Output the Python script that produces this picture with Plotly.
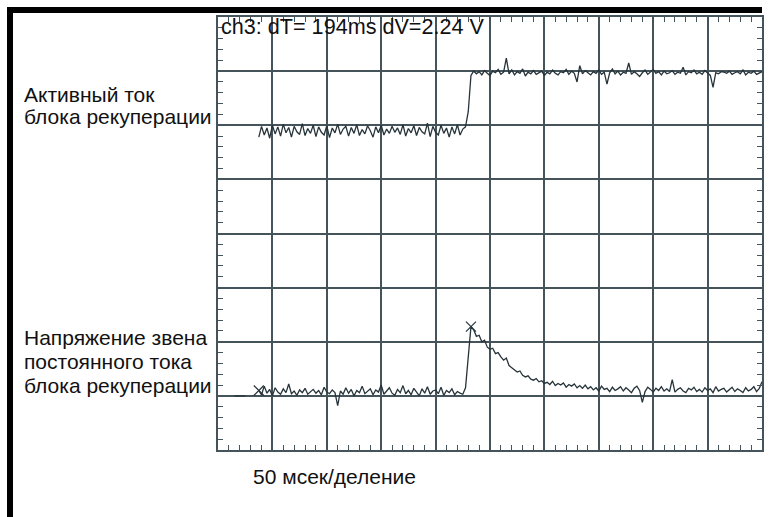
import plotly.graph_objects as go

# ---- data (time in ms, amplitude in screen divisions) ----
SAMPLE_START_MS = 37.5
SAMPLE_STEP_MS = 2.5

current_div = [
    5.78, 5.98, 5.82, 5.95, 5.76, 6.00, 5.84, 5.97, 5.80, 6.02,
    5.86, 5.96, 5.78, 5.98, 5.88, 5.83, 6.03, 5.81, 5.94, 5.85,
    6.00, 5.79, 5.97, 5.87, 5.82, 5.99, 5.77, 5.95, 5.86, 6.02,
    5.83, 5.93, 5.98, 5.80, 5.96, 5.85, 6.01, 5.81, 5.92, 5.84,
    5.99, 5.90, 5.78, 5.97, 5.86, 6.00, 5.82, 5.93, 5.85, 5.98,
    5.87, 5.95, 5.83, 6.01, 5.80, 5.94, 5.86, 5.99, 5.81, 5.96,
    5.88, 5.84, 6.04, 5.79, 5.98, 5.87, 5.82, 6.00, 5.85, 5.95,
    5.78, 5.97, 5.84, 6.01, 5.82, 5.93, 5.97,
    6.25, 6.92, 7.00,
    6.95, 6.99, 6.93, 7.01, 6.96, 6.92, 7.00, 6.97, 7.03, 6.94,
    6.98, 7.24, 6.95, 7.02, 6.93, 6.99, 6.96, 7.04, 6.91, 6.98,
    6.95, 7.01, 6.94, 6.97, 7.00, 6.92, 6.98, 6.95, 7.02, 6.96,
    6.93, 6.99, 6.97, 7.03, 6.94, 7.00, 6.96, 6.80, 7.10, 6.95,
    7.01, 6.97, 6.93, 6.99, 6.96, 7.02, 6.94, 6.98, 6.76, 6.97,
    7.04, 6.95, 7.00, 6.93, 6.98, 6.96, 7.15, 6.94, 6.99, 6.95,
    6.90, 6.97, 7.02, 6.94, 6.98, 7.03, 6.96, 6.99, 6.93, 7.00,
    6.95, 6.97, 7.01, 6.94, 6.98, 6.96, 7.07, 6.93, 6.99, 6.97,
    7.02, 6.95, 6.98, 6.94, 7.01, 6.96, 6.92, 6.70, 6.97, 6.95,
    6.99, 6.98, 6.96, 7.00, 6.94, 6.97, 6.99, 6.95, 7.02, 6.93,
    6.98, 6.96, 7.00, 6.94, 6.97, 6.99,
]

voltage_div = [
    1.10, 1.02, 1.18, 1.05, 1.12, 1.00, 1.15, 1.07, 1.03, 1.13,
    1.06, 1.22, 1.04, 1.09, 1.01, 1.11, 1.06, 1.14, 1.03, 1.08,
    1.12, 1.05, 1.10, 1.02, 1.16, 1.07, 1.04, 1.11, 1.06, 0.82,
    1.09, 1.03, 1.15, 1.05, 1.12, 1.00, 1.10, 1.06, 1.18, 1.04,
    1.08, 1.13, 1.02, 1.11, 1.07, 1.20, 1.03, 1.09, 1.15, 1.05,
    1.01, 1.12, 1.06, 1.19, 1.04, 1.10, 1.02, 1.14, 1.08, 1.00,
    1.13, 1.05, 1.17, 1.03, 1.09, 1.11, 1.04, 1.16, 1.01, 1.10,
    1.06, 1.13, 1.02, 1.08, 1.05, 1.03,
    1.15, 1.70, 2.28, 2.22, 2.10, 2.12, 2.00, 2.03, 1.90, 1.86,
    1.88, 1.78, 1.80, 1.72, 1.66, 1.70, 1.56, 1.52, 1.48, 1.44,
    1.46, 1.38, 1.35, 1.37, 1.31, 1.29, 1.32, 1.26, 1.28, 1.23,
    1.25, 1.21, 1.27, 1.19, 1.23, 1.20, 1.24, 1.16, 1.21, 1.18,
    1.22, 1.15, 1.19, 1.14, 1.20, 1.13,
    1.17, 1.11, 1.15, 1.09, 1.18, 1.12, 1.14, 1.08, 1.16, 1.10,
    1.13, 1.17, 1.09, 1.15, 1.11, 1.06, 1.14, 1.18, 1.10, 0.88,
    1.08, 1.16, 1.12, 1.07, 1.14, 1.10, 1.17, 1.09, 1.13, 1.08,
    1.30, 1.07, 1.12, 1.15, 1.09, 1.06, 1.14, 1.11, 1.16, 1.08,
    1.12, 1.07, 1.15, 1.10, 1.13, 1.06, 1.17, 1.09, 1.12, 1.14,
    1.07, 1.11, 1.16, 1.08, 1.13, 1.10, 1.06, 1.15, 1.09, 1.12,
    1.17, 1.08, 1.14, 1.26,
]

voltage_pre_t = [15.0, 25.0]
voltage_pre_div = [1.00, 1.00]

cursor_idx = [0, 78]   # measurement cursors on ch3

readout = "ch3: dT= 194ms dV=2.24 V"
label_current = ["Активный ток", "блока рекуперации"]
label_voltage = ["Напряжение звена", "постоянного тока", "блока рекуперации"]
timebase = "50 мсек/деление"

X_RANGE = [0, 500]
Y_RANGE = [0, 8]

# ---- figure ----
t_cur = [SAMPLE_START_MS + SAMPLE_STEP_MS * i for i in range(len(current_div))]
t_volt = [SAMPLE_START_MS + SAMPLE_STEP_MS * i for i in range(len(voltage_div))]

TRACE = "#26343a"
GRID = "#45545a"
FONT = "Liberation Sans, Arial, sans-serif"

fig = go.Figure()
fig.add_trace(go.Scatter(x=t_cur, y=current_div, mode="lines",
                         line=dict(color=TRACE, width=1.3), hoverinfo="skip"))
fig.add_trace(go.Scatter(x=t_volt, y=voltage_div, mode="lines",
                         line=dict(color=TRACE, width=1.3), hoverinfo="skip"))
fig.add_trace(go.Scatter(x=voltage_pre_t, y=voltage_pre_div, mode="lines",
                         line=dict(color=TRACE, width=1.2), hoverinfo="skip"))
fig.add_trace(go.Scatter(x=[t_volt[i] for i in cursor_idx],
                         y=[voltage_div[i] for i in cursor_idx], mode="markers",
                         marker=dict(symbol="x-thin-open", size=10, color=TRACE,
                                     line=dict(color=TRACE, width=1.2)),
                         hoverinfo="skip"))

axis_common = dict(showgrid=True, gridcolor=GRID, gridwidth=1.6,
                   showline=True, linecolor=GRID, linewidth=1.6, mirror="ticks",
                   ticks="", showticklabels=False, zeroline=False,
                   fixedrange=True)
fig.update_xaxes(range=X_RANGE, dtick=50, tick0=0,
                 minor=dict(dtick=10, tick0=0, ticks="inside", ticklen=5,
                            tickcolor=GRID, tickwidth=1.2, showgrid=False),
                 **axis_common)
fig.update_yaxes(range=Y_RANGE, dtick=1, tick0=0,
                 minor=dict(dtick=0.2, tick0=0, ticks="inside", ticklen=5,
                            tickcolor=GRID, tickwidth=1.2, showgrid=False),
                 **axis_common)

W, H = 778, 517
L, R, T, B = 218, 16, 17, 67
PW, PH = W - L - R, H - T - B


def px_x(px):
    return (px - L) / PW


def px_y(py):
    return (H - B - py) / PH


anns = []


def add_text(text, x_px, y_px, size=21, anchor="left"):
    anns.append(dict(text=text, x=px_x(x_px), y=px_y(y_px), xref="paper",
                     yref="paper", xanchor=anchor, yanchor="middle",
                     showarrow=False,
                     font=dict(family=FONT, size=size, color="#111111")))


add_text(readout, 219, 26, size=21.6)
add_text(label_current[0], 22, 94)
add_text(label_current[1], 22, 117)
add_text(label_voltage[0], 22, 337)
add_text(label_voltage[1], 22, 361)
add_text(label_voltage[2], 22, 385)
add_text(timebase, 251, 476)

shapes = [
    dict(type="rect", xref="paper", yref="paper",
         x0=px_x(7), x1=px_x(762), y0=px_y(13), y1=px_y(7),
         fillcolor="black", line=dict(width=0), layer="above"),
    dict(type="rect", xref="paper", yref="paper",
         x0=px_x(7), x1=px_x(13), y0=px_y(520), y1=px_y(7),
         fillcolor="black", line=dict(width=0), layer="above"),
]

fig.update_layout(width=W, height=H, margin=dict(l=L, r=R, t=T, b=B),
                  paper_bgcolor="white", plot_bgcolor="white",
                  showlegend=False, annotations=anns, shapes=shapes)

fig.write_html("out.html", config={"displayModeBar": False},
               post_script="document.body.style.margin='0';"
                           "document.body.style.overflow='hidden';")
